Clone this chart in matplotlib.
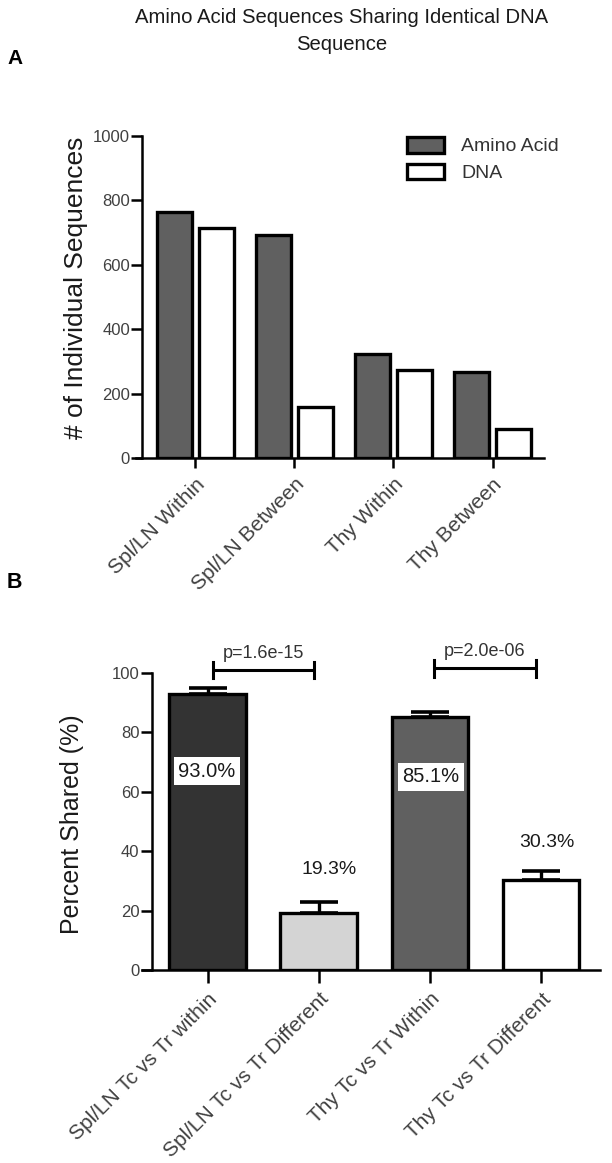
import matplotlib
matplotlib.use("Agg")
import matplotlib.pyplot as plt
import numpy as np
from matplotlib.patches import Patch

plt.rcParams['font.family'] = ['Liberation Sans', 'DejaVu Sans']

# ---- Data ----
cats_a = ["Spl/LN Within", "Spl/LN Between", "Thy Within", "Thy Between"]
amino_acid = [764, 692, 323, 267]
dna = [714, 158, 273, 90]
yticks_a = [0, 200, 400, 600, 800, 1000]

cats_b = ["Spl/LN Tc vs Tr within", "Spl/LN Tc vs Tr Different",
          "Thy Tc vs Tr Within", "Thy Tc vs Tr Different"]
pct_shared = [93.0, 19.3, 85.1, 30.3]
pct_err = [2.0, 3.6, 1.8, 3.0]
pct_labels = ["93.0%", "19.3%", "85.1%", "30.3%"]
colors_b = ["#333333", "#d4d4d4", "#606060", "#ffffff"]
yticks_b = [0, 20, 40, 60, 80, 100]
pvals = ["p=1.6e-15", "p=2.0e-06"]

W, H = 612, 1163
fig = plt.figure(figsize=(W / 100, H / 100), dpi=100)

def fx(px):
    return px / W

def fy(py):
    return 1 - py / H

tick_col = "#404040"
txt_col = "#1a1a1a"
lw_edge = 2.4
lw_spine = 1.8

# ---- Title and panel letters ----
fig.text(fx(342), fy(8), "Amino Acid Sequences Sharing Identical DNA\nSequence",
         ha="center", va="top", fontsize=14.6, color=txt_col, linespacing=1.5)
fig.text(fx(7), fy(58), "A", fontsize=15, fontweight="bold", va="center", ha="left")
fig.text(fx(7), fy(582), "B", fontsize=15.5, fontweight="bold", va="center", ha="left")

# ---- Panel A ----
axA = fig.add_axes([fx(136), fy(458), fx(544 - 136), fy(136) - fy(458)])
x = np.arange(len(cats_a))
bw = 0.35
gap = 0.035
axA.bar(x - bw / 2 - gap, amino_acid, width=bw, color="#606060", edgecolor="black",
        linewidth=lw_edge, label="Amino Acid")
axA.bar(x + bw / 2 + gap, dna, width=bw, color="white", edgecolor="black",
        linewidth=lw_edge, label="DNA")
axA.set_xlim(-0.6, 3.52)
axA.set_ylim(0, 1000)
axA.set_yticks(yticks_a)
axA.set_xticks(x)
axA.set_xticklabels(cats_a, rotation=45, ha="right", rotation_mode="anchor",
                    fontsize=15, color=tick_col)
axA.tick_params(axis="y", labelsize=12, labelcolor=tick_col, length=8, width=lw_spine, pad=1)
axA.tick_params(axis="x", length=7, width=lw_spine, pad=5)
for s in ["top", "right"]:
    axA.spines[s].set_visible(False)
axA.spines["left"].set_position(("data", -0.535))
axA.spines["left"].set_linewidth(lw_spine)
axA.spines["bottom"].set_linewidth(lw_spine)
fig.text(fx(76), fy(288), "# of Individual Sequences", rotation=90, ha="center", va="center",
         fontsize=19, color=txt_col)
leg = axA.legend(handles=[Patch(facecolor="#606060", edgecolor="black", linewidth=lw_edge, label="Amino Acid"),
                          Patch(facecolor="white", edgecolor="black", linewidth=lw_edge, label="DNA")],
                 loc="upper left", bbox_to_anchor=(fx(407), fy(137)), bbox_transform=fig.transFigure,
                 frameon=False, fontsize=14, borderpad=0, borderaxespad=0,
                 handlelength=1.9, handleheight=0.85, handletextpad=0.9, labelspacing=0.42)
for t in leg.get_texts():
    t.set_color("#333333")

# ---- Panel B ----
axB = fig.add_axes([fx(142), fy(970), fx(600 - 142), fy(673) - fy(970)])
xb = np.arange(len(cats_b))
axB.bar(xb, pct_shared, width=0.69, color=colors_b, edgecolor="black", linewidth=lw_edge, zorder=2)
axB.errorbar(xb, pct_shared, yerr=[np.zeros(len(pct_err)), pct_err], fmt="none",
             ecolor="black", elinewidth=2.4, capsize=13.5, capthick=2.6, zorder=1)
axB.set_xlim(-0.59, 3.53)
axB.set_ylim(0, 100)
axB.set_yticks(yticks_b)
axB.set_xticks(xb)
axB.set_xticklabels(cats_b, rotation=45, ha="right", rotation_mode="anchor",
                    fontsize=15, color=tick_col)
axB.tick_params(axis="y", labelsize=12, labelcolor=tick_col, length=8, width=lw_spine, pad=1)
axB.tick_params(axis="x", length=9, width=lw_spine, pad=5)
for s in ["top", "right"]:
    axB.spines[s].set_visible(False)
axB.spines["left"].set_position(("data", -0.5))
axB.spines["left"].set_linewidth(lw_spine)
axB.spines["bottom"].set_linewidth(lw_spine)
fig.text(fx(72), fy(824), "Percent Shared (%)", rotation=90, ha="center", va="center",
         fontsize=18, color=txt_col)

# value labels
label_x = [-0.005, 1.09, 2.01, 3.05]
label_y = [67.0, 33.7, 65.0, 42.8]
for i, (lab, lx, ly) in enumerate(zip(pct_labels, label_x, label_y)):
    if i in (0, 2):
        axB.text(lx, ly, lab, ha="center", va="center", fontsize=14.5, color=txt_col,
                 bbox=dict(facecolor="white", edgecolor="none", pad=3.5), zorder=4)
    else:
        axB.text(lx, ly, lab, ha="center", va="center", fontsize=14, color=txt_col, zorder=4)

# significance brackets
brackets = [(0.05, 0.96, 101.0), (2.04, 2.95, 101.6)]
for (x0, x1, yb), p in zip(brackets, pvals):
    axB.plot([x0, x1], [yb, yb], color="black", lw=2.2, clip_on=False, solid_capstyle="butt")
    for xx in (x0, x1):
        axB.plot([xx, xx], [yb - 2.8, yb + 2.8], color="black", lw=2.2, clip_on=False)
    axB.text((x0 + x1) / 2, yb + 5.5, p, ha="center", va="center", fontsize=13, color="#333333")

fig.savefig("out.png", dpi=100, facecolor="white")
